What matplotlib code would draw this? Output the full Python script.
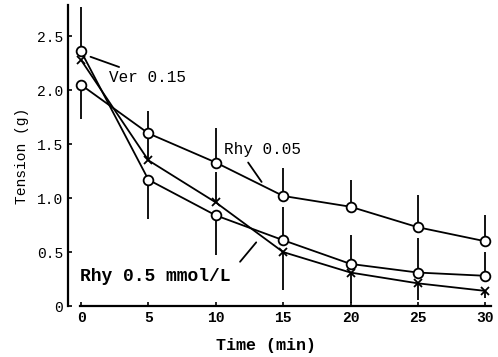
import matplotlib
matplotlib.use("Agg")
import matplotlib.pyplot as plt
import numpy as np

time = [0, 5, 10, 15, 20, 25, 30]
rhy005 = [2.05, 1.60, 1.33, 1.02, 0.92, 0.73, 0.60]
rhy005_up = [0.0, 0.21, 0.32, 0.26, 0.25, 0.30, 0.24]
rhy005_lo = [0.32, 0.0, 0.0, 0.0, 0.0, 0.0, 0.0]
ver015 = [2.28, 1.35, 0.96, 0.50, 0.31, 0.21, 0.14]
ver015_up = [0.0, 0.22, 0.28, 0.0, 0.0, 0.0, 0.0]
ver015_lo = [0.0, 0.0, 0.0, 0.35, 0.28, 0.15, 0.07]
rhy05 = [2.36, 1.17, 0.84, 0.61, 0.39, 0.31, 0.28]
rhy05_up = [0.41, 0.0, 0.0, 0.31, 0.27, 0.32, 0.22]
rhy05_lo = [0.0, 0.36, 0.37, 0.0, 0.0, 0.0, 0.0]
yticks = [0, 0.5, 1.0, 1.5, 2.0, 2.5]
yticklabels = ["0", "0.5", "1.0", "1.5", "2.0", "2.5"]
xticks = [0, 5, 10, 15, 20, 25, 30]

mono = ["Liberation Mono", "DejaVu Sans Mono"]
plt.rcParams['font.family'] = mono

fig = plt.figure(figsize=(4.98, 3.57), dpi=100)
ax = fig.add_axes([68/498, 51/357, 424/498, 301/357])

kw = dict(color="black", linewidth=1.3, capsize=0, elinewidth=1.3)
ax.errorbar(time, rhy005, yerr=[rhy005_lo, rhy005_up], marker="o", markersize=7,
            markerfacecolor="white", markeredgecolor="black", markeredgewidth=1.3, **kw)
ax.errorbar(time, ver015, yerr=[ver015_lo, ver015_up], marker="x", markersize=6,
            markeredgewidth=1.3, **kw)
ax.errorbar(time, rhy05, yerr=[rhy05_lo, rhy05_up], marker="o", markersize=7,
            markerfacecolor="white", markeredgecolor="black", markeredgewidth=1.3, **kw)

ax.set_xlim(-0.97, 30.5)
ax.set_ylim(0, 2.79)
for s in ["top", "right"]:
    ax.spines[s].set_visible(False)
ax.spines["left"].set_linewidth(1.6)
ax.spines["bottom"].set_linewidth(1.6)
ax.spines["bottom"].set_bounds(-0.1, 30.4)

ax.set_yticks(yticks)
ax.set_yticklabels(yticklabels)
ax.set_xticks(xticks)
ax.tick_params(direction="in", length=3, width=1.2, labelsize=10.5)
for lab in ax.get_xticklabels():
    lab.set_fontweight("bold")

ax.set_ylabel("Tension (g)", fontsize=10.5, labelpad=6)
ax.set_xlabel("Time (min)", fontsize=12, fontweight="bold")
ax.xaxis.set_label_coords(0.467, -0.105)

ax.annotate("Ver 0.15", xy=(0.7, 2.31), xytext=(2.1, 2.12), fontsize=11.5,
            ha="left", va="center",
            arrowprops=dict(arrowstyle="-", color="black", lw=1.3, shrinkA=0, shrinkB=0))
ax.text(10.6, 1.45, "Rhy 0.05", fontsize=11.5, ha="left", va="center")
ax.annotate("", xy=(13.4, 1.15), xytext=(12.4, 1.33),
            arrowprops=dict(arrowstyle="-", color="black", lw=1.3, shrinkA=0, shrinkB=0))
ax.text(-0.1, 0.27, "Rhy 0.5 mmol/L", fontsize=13, fontweight="bold", ha="left", va="center")
ax.annotate("", xy=(13.0, 0.59), xytext=(11.8, 0.41),
            arrowprops=dict(arrowstyle="-", color="black", lw=1.3, shrinkA=0, shrinkB=0))

fig.savefig("out.png", dpi=100)
